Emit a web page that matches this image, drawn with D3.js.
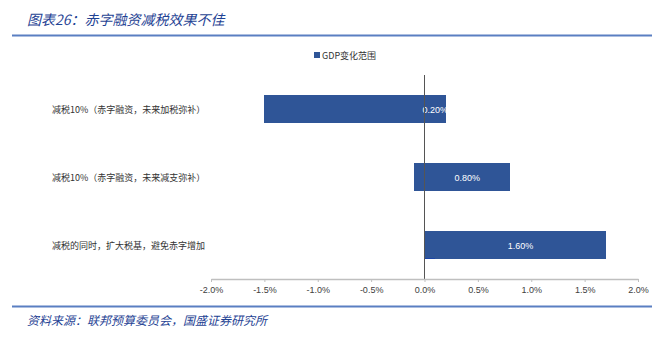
<!DOCTYPE html>
<html>
<head>
<meta charset="utf-8">
<script src="https://cdn.jsdelivr.net/npm/d3@7"></script>
<style>
  html, body { margin: 0; padding: 0; background: #fff; }
  svg { display: block; }
  text { font-family: "Noto Sans CJK SC", "Noto Sans", sans-serif; }
  .num { font-family: "Liberation Sans", Arial, sans-serif; }
</style>
</head>
<body>
<svg id="chart" width="663" height="340"></svg>
<script>
// Scenarios (rows, top to bottom)
const categories = [
  "减税10%（赤字融资，未来加税弥补）",
  "减税10%（赤字融资，未来减支弥补）",
  "减税的同时，扩大税基，避免赤字增加"
];
// Negative side of each GDP range (%)
const lowPart = [-1.5, -0.1, 0];
// Offset where the labelled segment starts (%)
const basePart = [0, 0, 0.1];
// Labelled GDP change segment (%)
const gdpRange = [0.2, 0.8, 1.6];
// Axis ticks (%)
const xTicks = [-2.0, -1.5, -1.0, -0.5, 0.0, 0.5, 1.0, 1.5, 2.0];

const titleText = "图表26：赤字融资减税效果不佳";
const sourceText = "资料来源：联邦预算委员会，国盛证券研究所";
const legendText = "GDP变化范围";

const barColor = "#2F5597";
const headColor = "#1F4394";
const ruleColor = "#5A7FC2";

const svg = d3.select("#chart");

// Header
svg.append("text")
  .attr("x", 27).attr("y", 25)
  .attr("font-size", 14).attr("font-style", "italic")
  .attr("fill", headColor)
  .text(titleText);
svg.append("line")
  .attr("x1", 12).attr("x2", 652).attr("y1", 35.5).attr("y2", 35.5)
  .attr("stroke", ruleColor).attr("stroke-width", 2);

// Scales
const x = d3.scaleLinear().domain([-2, 2]).range([211, 638]);
const y = d3.scaleBand().domain(categories).range([75, 279])
  .paddingInner(0.588).paddingOuter(0.294);

// Legend
const lg = svg.append("g");
lg.append("rect").attr("x", 314).attr("y", 52).attr("width", 6).attr("height", 6).attr("fill", barColor);
lg.append("text").attr("x", 322).attr("y", 58.5).attr("font-size", 9).attr("fill", "#333").text(legendText);

// Rows
const rows = categories.map((c, i) => ({
  cat: c, low: lowPart[i], base: basePart[i], val: gdpRange[i]
}));

const g = svg.append("g").attr("shape-rendering", "crispEdges");
rows.forEach(d => {
  const yy = y(d.cat), h = y.bandwidth();
  // negative segment
  if (d.low < 0) {
    g.append("rect").attr("x", x(d.low)).attr("y", yy)
      .attr("width", x(0) - x(d.low) + 0.5).attr("height", h).attr("fill", barColor);
  }
  // base offset segment
  if (d.base > 0) {
    g.append("rect").attr("x", x(0)).attr("y", yy)
      .attr("width", x(d.base) - x(0) + 0.5).attr("height", h).attr("fill", barColor);
    g.append("line").attr("x1", x(0)).attr("x2", x(d.base))
      .attr("y1", yy + h - 1).attr("y2", yy + h - 1)
      .attr("stroke", "#1C45A6").attr("stroke-width", 1);
  }
  // labelled GDP segment
  g.append("rect").attr("x", x(d.base)).attr("y", yy)
    .attr("width", x(d.base + d.val) - x(d.base)).attr("height", h).attr("fill", barColor);
  svg.append("text").attr("class", "num")
    .attr("x", x(d.base + d.val / 2)).attr("y", yy + h / 2 + 3.5)
    .attr("text-anchor", "middle").attr("font-size", 9).attr("fill", "#fff")
    .text(d.val.toFixed(2) + "%");
});

// Category labels
svg.append("g").selectAll("text").data(categories).join("text")
  .attr("x", 52).attr("y", d => y(d) + y.bandwidth() / 2 + 3.5)
  .attr("font-size", 9).attr("fill", "#333")
  .text(d => d);

// Zero line
svg.append("line")
  .attr("x1", x(0)).attr("x2", x(0)).attr("y1", 75).attr("y2", 279)
  .attr("stroke", "#555").attr("stroke-width", 1);

// X axis
const xAxis = d3.axisBottom(x).tickValues(xTicks).tickSize(3).tickSizeOuter(0)
  .tickFormat(d => d.toFixed(1) + "%");
const ax = svg.append("g").attr("transform", "translate(0,279)").call(xAxis);
ax.select(".domain").attr("stroke", "#BFBFBF").attr("stroke-width", 1.5);
ax.selectAll(".tick line").attr("stroke", "#BFBFBF");
ax.selectAll(".tick text").attr("class", "num").attr("font-size", 9).attr("fill", "#404040")
  .attr("font-family", null).attr("dy", "0.9em");

// Footer
svg.append("line")
  .attr("x1", 12).attr("x2", 652).attr("y1", 306.5).attr("y2", 306.5)
  .attr("stroke", ruleColor).attr("stroke-width", 2);
svg.append("text")
  .attr("x", 27).attr("y", 325)
  .attr("font-size", 12).attr("font-style", "italic")
  .attr("fill", headColor)
  .text(sourceText);
</script>
</body>
</html>
